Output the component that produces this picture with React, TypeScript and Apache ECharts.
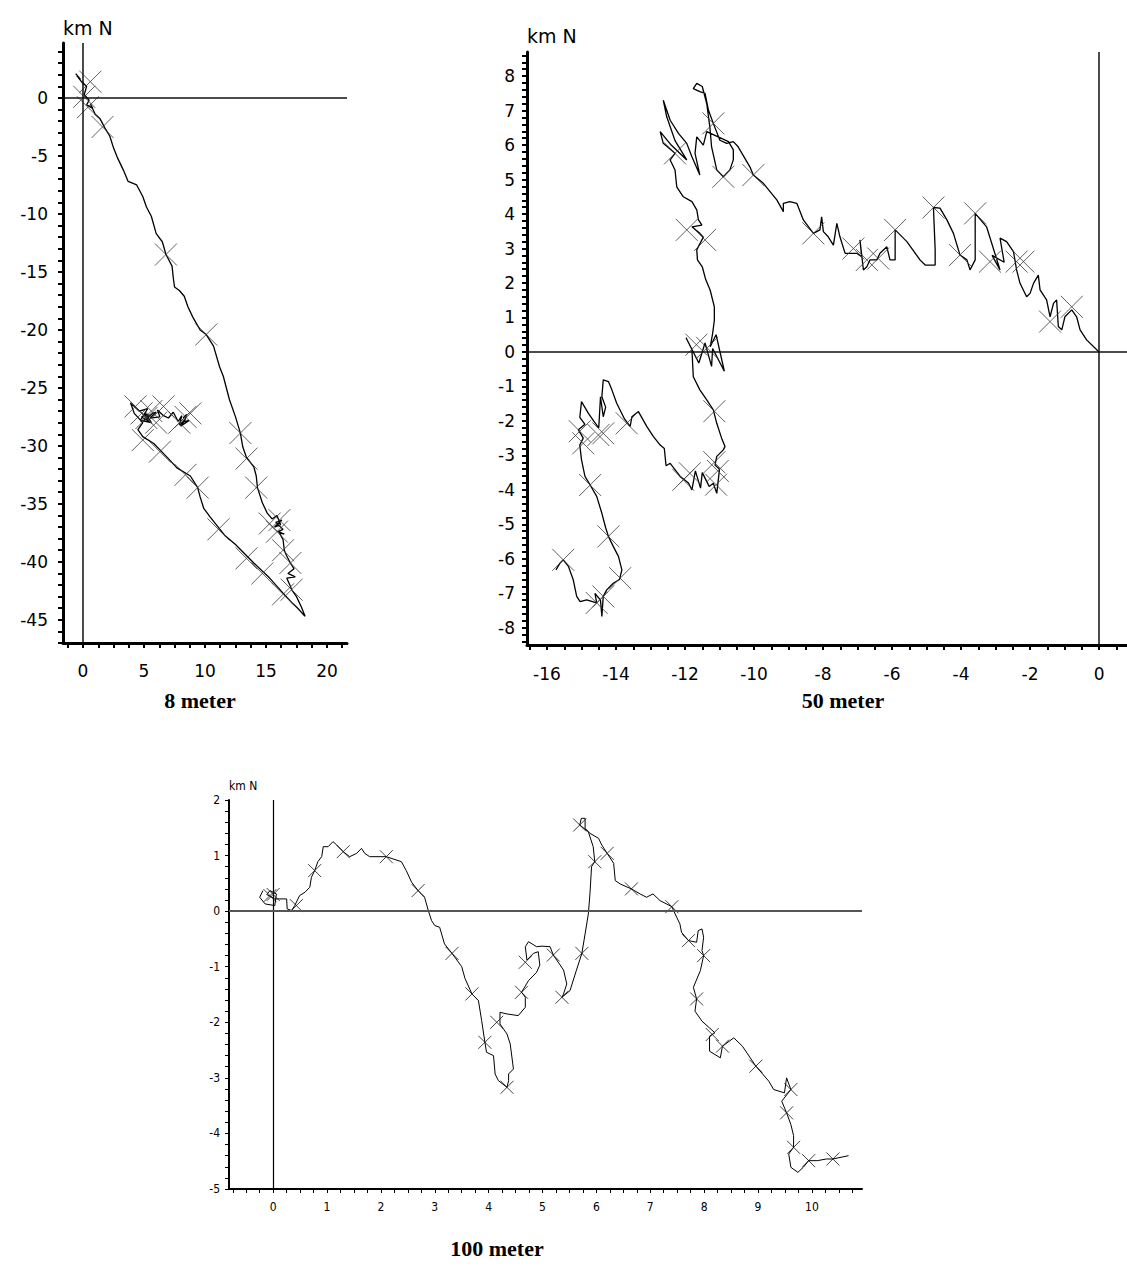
import React, { useEffect, useRef } from "react";
import * as echarts from "echarts";

// ---------- Panel 1: 8 meter ----------
const p1Track: number[][] = [
  [-0.6, 2.1], [-0.2, 1.6], [-0.5, 1.9], [0.1, 1.1], [-0.1, 1.4], [0.3, 1.0], [0.1, 0.3], [0.5, -0.2],
  [0.3, -0.6], [0.8, -0.9], [0.6, -0.5], [1.0, -1.4], [1.4, -1.8], [1.8, -2.6], [2.2, -3.3], [2.5, -4.3],
  [2.8, -5.1], [3.3, -6.2], [3.7, -7.2], [4.4, -7.5], [4.9, -8.5], [5.2, -9.4], [5.6, -10.2], [6.0, -11.7],
  [6.5, -12.4], [6.8, -13.5], [7.3, -14.5], [7.4, -15.5], [7.5, -16.3], [7.9, -16.6], [8.3, -17.1], [8.6, -18.0],
  [9.0, -18.9], [9.6, -20.0], [10.1, -20.4], [10.7, -21.4], [11.2, -23.2], [11.5, -24.0], [12.0, -26.0], [12.5, -27.5],
  [12.9, -28.9], [13.1, -30.1], [13.4, -31.0], [14.0, -31.8], [14.2, -32.6], [14.3, -33.6], [14.7, -34.9], [15.1, -35.8],
  [15.5, -36.3], [15.9, -36.0], [16.2, -36.8], [15.7, -37.0], [16.3, -36.4], [15.8, -36.6], [16.4, -37.2], [16.0, -37.4],
  [16.5, -37.6], [16.1, -37.5], [16.4, -38.1], [16.5, -39.0], [16.7, -39.5], [17.0, -40.1], [17.3, -40.6], [16.8, -41.0],
  [17.4, -41.3], [16.7, -41.4], [17.0, -42.1], [17.1, -42.4], [17.5, -43.0], [17.9, -43.9], [18.2, -44.7], [17.6, -44.0],
  [17.2, -43.6], [16.4, -42.7], [15.3, -41.4], [14.0, -40.1], [12.5, -38.5], [11.6, -37.7], [10.4, -36.1], [9.9, -35.4],
  [9.6, -34.4], [9.4, -33.6], [8.8, -32.6], [7.7, -31.9], [7.0, -31.1], [5.8, -29.8], [4.9, -29.2], [4.5, -28.6],
  [4.9, -28.0], [4.2, -27.2], [3.9, -26.3], [4.6, -27.0], [5.3, -26.8], [4.7, -27.8], [5.6, -28.0], [5.2, -27.3],
  [4.8, -27.5], [5.4, -27.9], [5.0, -27.2], [5.5, -27.4], [4.9, -27.9], [5.7, -27.2], [6.0, -27.1], [5.5, -27.6],
  [6.3, -27.5], [6.1, -26.9], [6.6, -27.4], [7.0, -27.6], [7.4, -27.1], [7.8, -27.9], [8.1, -27.4], [7.9, -28.2],
  [8.4, -27.7], [8.0, -28.3], [8.7, -27.8], [8.3, -27.9], [8.5, -27.3], [8.2, -27.6],
];
const p1Marks: number[][] = [
  [0.6, 1.4], [0.1, 0.1], [0.4, -0.8], [1.6, -2.5], [6.8, -13.5], [10.1, -20.4], [12.9, -28.9], [13.4, -31.1],
  [14.2, -33.6], [15.3, -36.7], [16.1, -36.4], [15.9, -37.4], [16.4, -39.0], [17.0, -40.1], [17.1, -42.4], [16.4, -42.8],
  [14.7, -41.0], [13.4, -39.7], [11.1, -37.2], [9.4, -33.6], [8.4, -32.5], [6.3, -30.5], [4.9, -29.5], [4.3, -26.6],
  [5.2, -27.6], [5.6, -27.0], [6.6, -26.6], [4.8, -27.2], [6.0, -28.0], [7.9, -28.0], [8.4, -27.5], [8.8, -27.2],
];
const p1XLabels = [0, 5, 10, 15, 20];
const p1YLabels = [0, -5, -10, -15, -20, -25, -30, -35, -40, -45];

// ---------- Panel 2: 50 meter ----------
const p2Track: number[][] = [
  [0, 0], [-0.36, 0.35], [-0.55, 0.64], [-0.65, 1.02], [-0.79, 1.22], [-0.99, 1.02], [-1.08, 0.64], [-1.18, 0.74],
  [-1.23, 1.51], [-1.32, 1.41], [-1.42, 1.02], [-1.52, 1.51], [-1.71, 1.8], [-1.76, 2.23], [-1.9, 1.99], [-2.0, 1.7],
  [-2.1, 1.6], [-2.29, 1.99], [-2.39, 2.38], [-2.48, 2.91], [-2.68, 3.2], [-2.87, 3.3], [-2.75, 2.6], [-3.1, 2.8],
  [-2.87, 2.38], [-3.26, 3.63], [-3.59, 4.02], [-3.59, 2.67], [-3.74, 2.38], [-3.83, 2.67], [-4.03, 2.81], [-4.22, 3.44],
  [-4.41, 3.83], [-4.61, 4.17], [-4.8, 4.19], [-4.75, 2.96], [-4.75, 2.52], [-5.04, 2.52], [-5.19, 2.67], [-5.57, 3.2],
  [-5.91, 3.54], [-5.91, 2.67], [-6.06, 2.67], [-6.15, 3.05], [-6.35, 2.86], [-6.44, 2.67], [-6.64, 2.67], [-6.73, 2.47],
  [-6.83, 2.38], [-6.93, 3.25], [-6.88, 2.76], [-7.02, 2.86], [-7.36, 2.86], [-7.51, 3.34], [-7.6, 3.73], [-7.7, 3.1],
  [-7.85, 3.34], [-7.99, 3.49], [-8.04, 3.92], [-8.09, 3.54], [-8.28, 3.44], [-8.57, 3.83], [-8.76, 4.31], [-8.96, 4.36],
  [-9.15, 4.31], [-9.15, 4.07], [-9.34, 4.41], [-9.73, 4.89], [-10.02, 5.13], [-10.12, 5.37], [-10.46, 5.95], [-10.6, 6.1],
  [-10.79, 6.05], [-10.99, 6.14], [-11.18, 6.63], [-11.32, 7.01], [-11.42, 7.5], [-11.57, 7.55], [-11.76, 7.64], [-11.66, 7.79],
  [-11.5, 7.7], [-11.37, 7.2], [-11.28, 6.52], [-11.23, 5.95], [-11.08, 5.28], [-10.89, 5.08], [-10.7, 5.28], [-10.6, 5.57],
  [-10.6, 5.86], [-10.74, 6.1], [-11.37, 6.39], [-11.47, 6.0], [-11.66, 6.24], [-11.71, 5.76], [-11.57, 5.13], [-11.8, 5.66],
  [-11.95, 6.05], [-12.19, 6.34], [-12.43, 6.72], [-12.63, 7.3], [-12.53, 6.82], [-12.29, 6.13], [-11.95, 5.57], [-12.4, 6.0],
  [-12.72, 6.39], [-12.63, 6.05], [-12.29, 5.76], [-12.43, 5.57], [-12.29, 5.28], [-12.24, 4.79], [-12.05, 4.5], [-11.8, 4.36],
  [-11.66, 4.12], [-11.61, 3.83], [-11.51, 3.68], [-11.8, 3.63], [-11.57, 3.44], [-11.47, 3.33], [-11.66, 2.96], [-11.64, 2.67],
  [-11.5, 2.47], [-11.4, 2.1], [-11.27, 1.79], [-11.15, 1.31], [-11.15, 0.92], [-11.2, 0.53], [-11.27, 0.15], [-11.1, 0.5],
  [-10.86, -0.56], [-11.2, 0.1], [-11.23, -0.42], [-11.42, 0.26], [-11.6, -0.32], [-11.97, 0.41], [-11.8, 0.07], [-11.76, -0.72],
  [-11.57, -1.1], [-11.37, -1.39], [-11.18, -1.68], [-11.08, -2.07], [-10.94, -2.5], [-10.84, -2.74], [-10.89, -2.84], [-11.08, -3.03],
  [-11.13, -3.28], [-11.0, -3.4], [-11.08, -4.1], [-11.18, -3.81], [-11.3, -3.9], [-11.5, -3.5], [-11.55, -3.95], [-11.7, -3.45],
  [-11.8, -4.0], [-11.9, -3.8], [-12.14, -3.61], [-12.43, -3.23], [-12.55, -3.3], [-12.6, -2.8], [-12.72, -2.7], [-12.92, -2.45],
  [-13.11, -2.16], [-13.35, -1.73], [-13.54, -1.88], [-13.59, -2.16], [-13.75, -1.95], [-13.98, -1.49], [-14.12, -1.1], [-14.22, -0.86],
  [-14.37, -0.81], [-14.41, -1.3], [-14.3, -1.6], [-14.37, -1.88], [-14.45, -1.3], [-14.5, -2.2], [-14.65, -2.0], [-14.8, -1.78],
  [-15.0, -1.44], [-15.05, -1.9], [-14.9, -2.1], [-15.09, -2.26], [-14.95, -2.5], [-15.05, -2.7], [-15.0, -3.13], [-14.9, -3.61],
  [-14.75, -3.86], [-14.56, -4.19], [-14.41, -4.68], [-14.3, -5.1], [-14.22, -5.35], [-14.08, -5.64], [-13.93, -5.93], [-13.83, -6.32],
  [-13.9, -6.6], [-14.08, -6.71], [-14.27, -6.9], [-14.37, -7.09], [-14.41, -7.67], [-14.45, -7.2], [-14.61, -7.0], [-14.56, -7.28],
  [-14.85, -7.19], [-15.04, -7.24], [-15.14, -7.09], [-15.24, -6.61], [-15.38, -6.22], [-15.53, -6.03], [-15.62, -6.12], [-15.74, -6.32],
];
const p2Marks: number[][] = [
  [-0.79, 1.31], [-1.42, 0.88], [-2.39, 2.62], [-2.19, 2.62], [-3.16, 2.62], [-3.59, 4.02], [-4.03, 2.81], [-4.8, 4.19],
  [-5.91, 3.54], [-6.4, 2.71], [-6.73, 2.67], [-7.12, 3.0], [-8.28, 3.44], [-10.02, 5.13], [-10.89, 5.08], [-11.18, 6.63],
  [-12.29, 5.76], [-11.95, 3.54], [-11.42, 3.25], [-11.67, 0.21], [-11.36, 0.12], [-11.15, -1.72], [-11.15, -3.2], [-11.05, -3.45],
  [-11.1, -3.85], [-11.86, -3.52], [-12.05, -3.71], [-13.69, -2.07], [-14.37, -2.36], [-15.05, -2.3], [-14.95, -2.65], [-14.51, -2.41],
  [-14.75, -3.86], [-14.22, -5.35], [-13.88, -6.56], [-14.37, -7.09], [-14.56, -7.28], [-15.53, -6.03],
];
const p2XLabels = [-16, -14, -12, -10, -8, -6, -4, -2, 0];
const p2YLabels = [8, 7, 6, 5, 4, 3, 2, 1, 0, -1, -2, -3, -4, -5, -6, -7, -8];

// ---------- Panel 3: 100 meter ----------
const p3Track: number[][] = [
  [-0.19, 0.37], [-0.25, 0.25], [-0.15, 0.13], [0.03, 0.1], [0.06, 0.31], [-0.06, 0.37], [-0.12, 0.3], [0.03, 0.22],
  [0.25, 0.22], [0.26, 0.04], [0.34, 0.01], [0.4, 0.1], [0.49, 0.28], [0.59, 0.34], [0.68, 0.43], [0.71, 0.61],
  [0.77, 0.73], [0.83, 0.89], [0.9, 0.98], [0.93, 1.16], [1.02, 1.16], [1.11, 1.25], [1.18, 1.19], [1.3, 1.07],
  [1.42, 0.98], [1.55, 1.04], [1.64, 1.13], [1.7, 1.04], [1.79, 0.98], [2.1, 0.98], [2.38, 0.89], [2.47, 0.73],
  [2.57, 0.52], [2.69, 0.37], [2.81, 0.25], [2.88, 0.01], [2.94, -0.17], [3.0, -0.26], [3.09, -0.29], [3.18, -0.59],
  [3.32, -0.76], [3.5, -1.0], [3.56, -1.21], [3.69, -1.49], [3.81, -1.61], [3.87, -1.97], [3.93, -2.36], [3.96, -2.54],
  [4.09, -2.6], [4.12, -2.93], [4.18, -3.05], [4.34, -3.17], [4.37, -3.05], [4.37, -2.93], [4.46, -2.84], [4.4, -2.39],
  [4.34, -2.21], [4.21, -2.03], [4.21, -1.82], [4.34, -1.85], [4.55, -1.88], [4.68, -1.73], [4.68, -1.55], [4.61, -1.46],
  [4.74, -1.25], [4.89, -1.1], [4.95, -0.97], [4.92, -0.73], [4.83, -0.76], [4.71, -0.88], [4.68, -0.64], [4.74, -0.55],
  [4.89, -0.64], [4.99, -0.63], [5.14, -0.64], [5.2, -0.79], [5.39, -1.06], [5.45, -1.31], [5.39, -1.49], [5.36, -1.55],
  [5.51, -1.43], [5.63, -1.06], [5.73, -0.76], [5.79, -0.41], [5.85, -0.05], [5.88, 0.31], [5.91, 0.8], [5.97, 0.89],
  [5.94, 1.16], [5.85, 1.43], [5.69, 1.55], [5.72, 1.67], [5.79, 1.67], [5.79, 1.49], [5.88, 1.4], [6.04, 1.31],
  [6.1, 1.19], [6.2, 1.04], [6.32, 0.86], [6.35, 0.55], [6.44, 0.49], [6.65, 0.4], [6.81, 0.31], [6.93, 0.25],
  [7.05, 0.31], [7.18, 0.19], [7.4, 0.08], [7.49, -0.11], [7.55, -0.23], [7.58, -0.38], [7.71, -0.53], [7.86, -0.56],
  [7.89, -0.35], [7.96, -0.32], [7.99, -0.47], [7.96, -0.71], [7.99, -0.8], [7.93, -1.07], [7.8, -1.37], [7.86, -1.58],
  [7.83, -1.8], [7.96, -1.98], [8.2, -2.19], [8.1, -2.25], [8.1, -2.52], [8.3, -2.64], [8.34, -2.43], [8.55, -2.28],
  [8.71, -2.43], [8.96, -2.79], [9.2, -3.06], [9.29, -3.21], [9.49, -3.27], [9.53, -3.0], [9.61, -3.21], [9.44, -3.42],
  [9.53, -3.63], [9.61, -3.84], [9.66, -4.04], [9.66, -4.25], [9.57, -4.37], [9.61, -4.61], [9.74, -4.7], [9.84, -4.61],
  [9.94, -4.49], [10.1, -4.49], [10.27, -4.46], [10.39, -4.46], [10.68, -4.4],
];
const p3Marks: number[][] = [
  [-0.06, 0.28], [0.0, 0.3], [0.43, 0.1], [0.77, 0.73], [1.3, 1.07], [2.1, 0.98], [2.69, 0.37], [3.32, -0.76],
  [3.69, -1.49], [3.93, -2.36], [4.34, -3.17], [4.15, -2.0], [4.61, -1.46], [4.68, -0.92], [5.2, -0.79], [5.36, -1.55],
  [5.73, -0.76], [5.97, 0.89], [5.69, 1.55], [6.2, 1.04], [6.65, 0.4], [7.4, 0.08], [7.71, -0.53], [7.99, -0.8],
  [7.86, -1.58], [8.15, -2.22], [8.34, -2.43], [8.96, -2.79], [9.61, -3.21], [9.53, -3.63], [9.66, -4.25], [9.94, -4.49],
  [10.39, -4.46],
];
const p3XLabels = [0, 1, 2, 3, 4, 5, 6, 7, 8, 9, 10];
const p3YLabels = [2, 1, 0, -1, -2, -3, -4, -5];

const titles = ["8 meter", "50 meter", "100 meter"];
const axisName = "km N";

// ---------- helpers ----------
function steps(from: number, to: number, step: number): number[] {
  const out: number[] = [];
  const n = Math.round((to - from) / step);
  for (let i = 0; i <= n; i++) out.push(Math.round((from + i * step) * 1000) / 1000);
  return out;
}

const SANS = "'DejaVu Sans', 'Liberation Sans', Arial, sans-serif";
const NARROW = "'Liberation Sans Narrow', 'DejaVu Sans Condensed', 'Liberation Sans', sans-serif";
const SERIF = "'Liberation Serif', 'Times New Roman', serif";
const XMARK = "path://M0,0L10,10M10,0L0,10";

type Panel = {
  grid: any;
  x: [number, number];
  y: [number, number];
  xLabels: number[];
  yLabels: number[];
  xTicks: number[];
  yTicks: number[];
  axisW: number;
  tickW: number;
  tickLen: number;
  font: string;
  fontSize: number;
  xMargin: number;
  yMargin: number;
  track: number[][];
  marks: number[][];
  markSize: number;
  markColor: string;
  lineW: number;
  hRef: { color: string; width: number };
  vRef: { color: string; width: number };
};

const panels: Panel[] = [
  {
    grid: { left: 63, top: 43, width: 284, height: 600 },
    x: [-1.64, 21.64], y: [-47, 4.74],
    xLabels: p1XLabels, yLabels: p1YLabels,
    xTicks: steps(-1.25, 21.25, 1.25), yTicks: steps(-47, 4, 1),
    axisW: 3, tickW: 2, tickLen: 5, font: SANS, fontSize: 17, xMargin: 19, yMargin: 15,
    track: p1Track, marks: p1Marks, markSize: 22, markColor: "#3a3a3a", lineW: 1.3,
    hRef: { color: "#111", width: 1.5 }, vRef: { color: "#111", width: 1.5 },
  },
  {
    grid: { left: 527, top: 52, width: 600, height: 593 },
    x: [-16.58, 0.81], y: [-8.5, 8.7],
    xLabels: p2XLabels, yLabels: p2YLabels,
    xTicks: steps(-16.5, 0.5, 0.5), yTicks: steps(-8.4, 8.6, 0.2),
    axisW: 3, tickW: 2, tickLen: 5, font: SANS, fontSize: 17, xMargin: 20, yMargin: 12,
    track: p2Track, marks: p2Marks, markSize: 22, markColor: "#3a3a3a", lineW: 1.3,
    hRef: { color: "#111", width: 1.5 }, vRef: { color: "#111", width: 1.5 },
  },
  {
    grid: { left: 229, top: 800, width: 633, height: 389 },
    x: [-0.82, 10.93], y: [-5, 2],
    xLabels: p3XLabels, yLabels: p3YLabels,
    xTicks: steps(-0.75, 10.75, 0.25), yTicks: steps(-5, 2, 0.2),
    axisW: 2, tickW: 1, tickLen: 4, font: NARROW, fontSize: 12, xMargin: 12, yMargin: 9,
    track: p3Track, marks: p3Marks, markSize: 13, markColor: "#111", lineW: 1,
    hRef: { color: "#555", width: 2 }, vRef: { color: "#000", width: 1.2 },
  },
];

function buildOption() {
  const grid = panels.map((p) => ({ ...p.grid, containLabel: false }));
  const xAxis = panels.map((p, i) => ({
    type: "value",
    gridIndex: i,
    min: p.x[0],
    max: p.x[1],
    splitLine: { show: false },
    axisLine: { show: true, onZero: false, lineStyle: { color: "#000", width: p.axisW } },
    axisTick: { show: true, customValues: p.xTicks, length: p.tickLen, lineStyle: { color: "#000", width: p.tickW } },
    axisLabel: {
      show: true, customValues: p.xLabels, color: "#000", fontFamily: p.font, fontSize: p.fontSize, margin: p.xMargin,
    },
  }));
  const yAxis = panels.map((p, i) => ({
    type: "value",
    gridIndex: i,
    min: p.y[0],
    max: p.y[1],
    splitLine: { show: false },
    axisLine: { show: true, onZero: false, lineStyle: { color: "#000", width: p.axisW } },
    axisTick: { show: true, customValues: p.yTicks, length: p.tickLen, lineStyle: { color: "#000", width: p.tickW } },
    axisLabel: {
      show: true, customValues: p.yLabels, color: "#000", fontFamily: p.font, fontSize: p.fontSize, margin: p.yMargin,
    },
  }));
  const series: any[] = [];
  panels.forEach((p, i) => {
    series.push({
      type: "line",
      xAxisIndex: i,
      yAxisIndex: i,
      data: p.track,
      showSymbol: false,
      symbol: "none",
      lineStyle: { color: "#000", width: p.lineW },
      silent: true,
      z: 3,
      markLine: {
        silent: true,
        symbol: ["none", "none"],
        label: { show: false },
        animation: false,
        data: [
          { xAxis: 0, lineStyle: { color: p.vRef.color, width: p.vRef.width, type: "solid" } },
          { yAxis: 0, lineStyle: { color: p.hRef.color, width: p.hRef.width, type: "solid" } },
        ],
      },
    });
    series.push({
      type: "scatter",
      xAxisIndex: i,
      yAxisIndex: i,
      data: p.marks,
      symbol: XMARK,
      symbolSize: p.markSize,
      itemStyle: { color: "none", borderColor: p.markColor, borderWidth: 1 },
      silent: true,
      z: 4,
    });
  });
  const graphic = [
    { type: "text", x: 63, y: 28, style: { text: axisName, font: `19px ${SANS}`, fill: "#000", textAlign: "left", textVerticalAlign: "middle" } },
    { type: "text", x: 527, y: 36, style: { text: axisName, font: `19px ${SANS}`, fill: "#000", textAlign: "left", textVerticalAlign: "middle" } },
    { type: "text", x: 229, y: 786, style: { text: axisName, font: `12px ${NARROW}`, fill: "#000", textAlign: "left", textVerticalAlign: "middle" } },
    { type: "text", x: 200, y: 700, style: { text: titles[0], font: `bold 22px ${SERIF}`, fill: "#000", textAlign: "center", textVerticalAlign: "middle" } },
    { type: "text", x: 843, y: 700, style: { text: titles[1], font: `bold 22px ${SERIF}`, fill: "#000", textAlign: "center", textVerticalAlign: "middle" } },
    { type: "text", x: 497, y: 1248, style: { text: titles[2], font: `bold 22px ${SERIF}`, fill: "#000", textAlign: "center", textVerticalAlign: "middle" } },
  ];
  return {
    animation: false,
    backgroundColor: "#fff",
    grid,
    xAxis,
    yAxis,
    series,
    graphic,
  };
}

export default function App() {
  const ref = useRef<HTMLDivElement>(null);
  useEffect(() => {
    if (!ref.current) return;
    const chart = echarts.init(ref.current, undefined, { renderer: "svg" });
    chart.setOption(buildOption() as any);
    return () => chart.dispose();
  }, []);
  return (
    <div
      ref={ref}
      style={{ position: "absolute", left: 0, top: 0, width: 1127, height: 1271, background: "#fff" }}
    />
  );
}
